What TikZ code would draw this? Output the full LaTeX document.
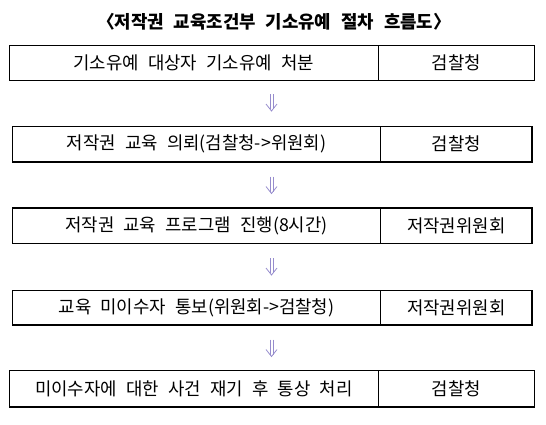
\documentclass[tikz,border=0pt]{standalone}
\usepackage{fontspec}
\newfontfamily\kr{Noto Sans CJK KR}
\newcommand{\cellfont}{\kr\fontsize{17.8}{20}\selectfont\fontdimen2\font=9.2pt\relax}
\newcommand{\titlefont}{\kr\bfseries\fontsize{17.8}{20}\selectfont\fontdimen2\font=10pt\relax}
\tikzset{
  cell/.style={draw, line width=1.2, inner sep=0pt, font=\cellfont},
  titlebox/.style={inner sep=0pt, font=\titlefont},
  flow/.style={draw={rgb,255:red,150;green,140;blue,205}, line width=0.8}
}
\newcommand{\flowarrow}[1]{%
  \draw[flow] (#1) ++(-1.4,-8.5) -- ++(0,15);
  \draw[flow] (#1) ++(1.4,-8.5) -- ++(0,15);
  \draw[flow] (#1) ++(-5.5,1.5) -- ++(5.5,7) -- ++(5.5,-7);
}
\begin{document}
\begin{tikzpicture}[x=1pt,y=-1pt]
\useasboundingbox (0,0) rectangle (546,424);
\node[titlebox] (t) at (274,22) {〈저작권 교육조건부 기소유예 절차 흐름도〉};
% row 1
\node[cell, minimum width=369, minimum height=35] (a1) at (193.8,62.8) {기소유예 대상자 기소유예 처분};
\node[cell, minimum width=156, minimum height=35] (b1) at (456.3,62.8) {검찰청};
% row 2
\node[cell, minimum width=368.4, minimum height=35.7] (a2) at (196.5,144.2) {저작권 교육 의뢰(검찰청->위원회)};
\node[cell, minimum width=151.3, minimum height=35.7] (b2) at (456.35,144.2) {검찰청};
% row 3
\node[cell, minimum width=368.4, minimum height=35.3] (a3) at (196.5,225.7) {저작권 교육 프로그램 진행(8시간)};
\node[cell, minimum width=151.3, minimum height=35.3] (b3) at (456.35,225.7) {저작권위원회};
% row 4
\node[cell, minimum width=368.4, minimum height=34.7] (a4) at (196.5,307.7) {교육 미이수자 통보(위원회->검찰청)};
\node[cell, minimum width=151.3, minimum height=34.7] (b4) at (456.35,307.7) {저작권위원회};
% row 5
\node[cell, minimum width=369, minimum height=36.3] (a5) at (193.8,388.9) {미이수자에 대한 사건 재기 후 통상 처리};
\node[cell, minimum width=156, minimum height=36.3] (b5) at (456.3,388.9) {검찰청};
% arrows
\coordinate (f1) at (271.5,102.5);
\coordinate (f2) at (271.5,185);
\coordinate (f3) at (271.5,266.5);
\coordinate (f4) at (271.5,348);
\flowarrow{f1}
\flowarrow{f2}
\flowarrow{f3}
\flowarrow{f4}
\end{tikzpicture}
\end{document}
